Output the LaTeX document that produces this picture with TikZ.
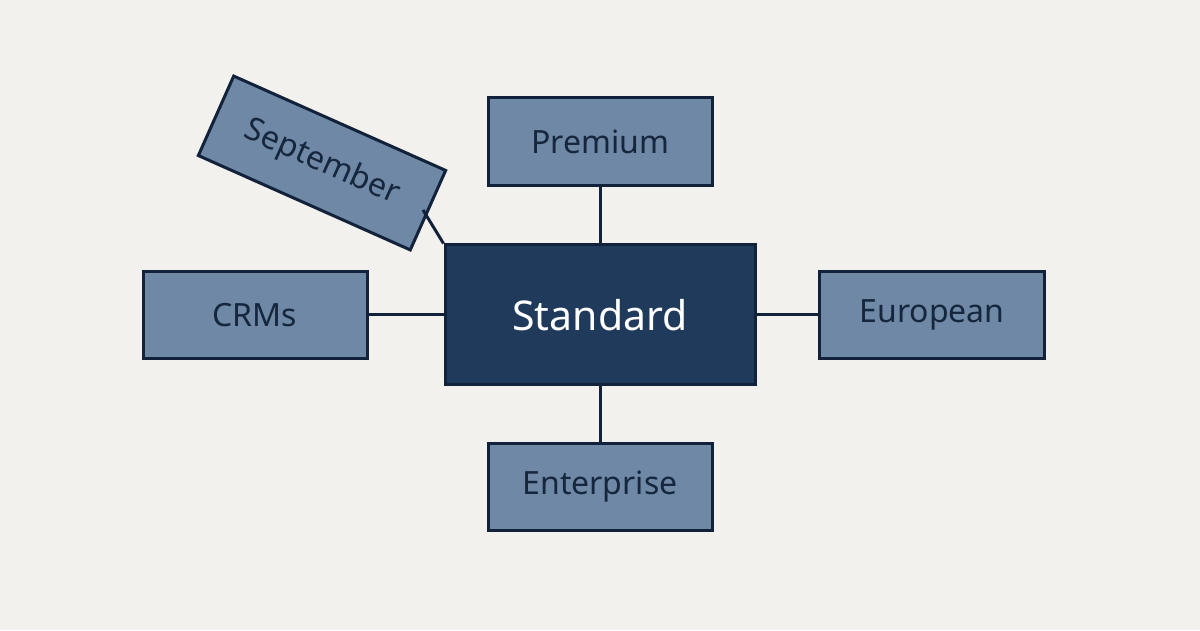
\documentclass[tikz,border=0pt]{standalone}
\usepackage{fontspec}
\setmainfont{Noto Sans}
\begin{document}
\begin{tikzpicture}[x=1pt,y=1pt,
  box/.style={draw=boxline, line width=3pt, fill=boxfill, text=txt, font=\fontsize{32}{36}\selectfont, inner sep=0pt},
  conn/.style={draw=boxline, line width=3pt}]
\definecolor{bg}{HTML}{F2F1ED}
\definecolor{boxfill}{HTML}{6E88A5}
\definecolor{boxline}{HTML}{12223A}
\definecolor{txt}{HTML}{15263D}
\definecolor{main}{HTML}{1F3A5A}
\fill[bg] (0,0) rectangle (1200,630);
\useasboundingbox (0,0) rectangle (1200,630);
\node[box, fill=main, text=white, minimum width=310, minimum height=140, font=\fontsize{41}{46}\selectfont] (s) at (600,315) {Standard};
\node[box, minimum width=224, minimum height=88] (p) at (600,488) {Premium};
\node[box, minimum width=224, minimum height=87] (e) at (600,143) {Enterprise};
\node[box, minimum width=224, minimum height=87] (c) at (255,315) {CRMs};
\node[box, minimum width=225, minimum height=87] (eu) at (932,315) {European};
\node[box, minimum width=232, minimum height=87, rotate=-24] (sep) at (322,467) {September};
\coordinate (sepend) at (423,420);
\draw[conn] (p) -- (s);
\draw[conn] (e) -- (s);
\draw[conn] (c) -- (s);
\draw[conn] (eu) -- (s);
\draw[conn] (sepend) -- (s.north west);
\end{tikzpicture}
\end{document}
